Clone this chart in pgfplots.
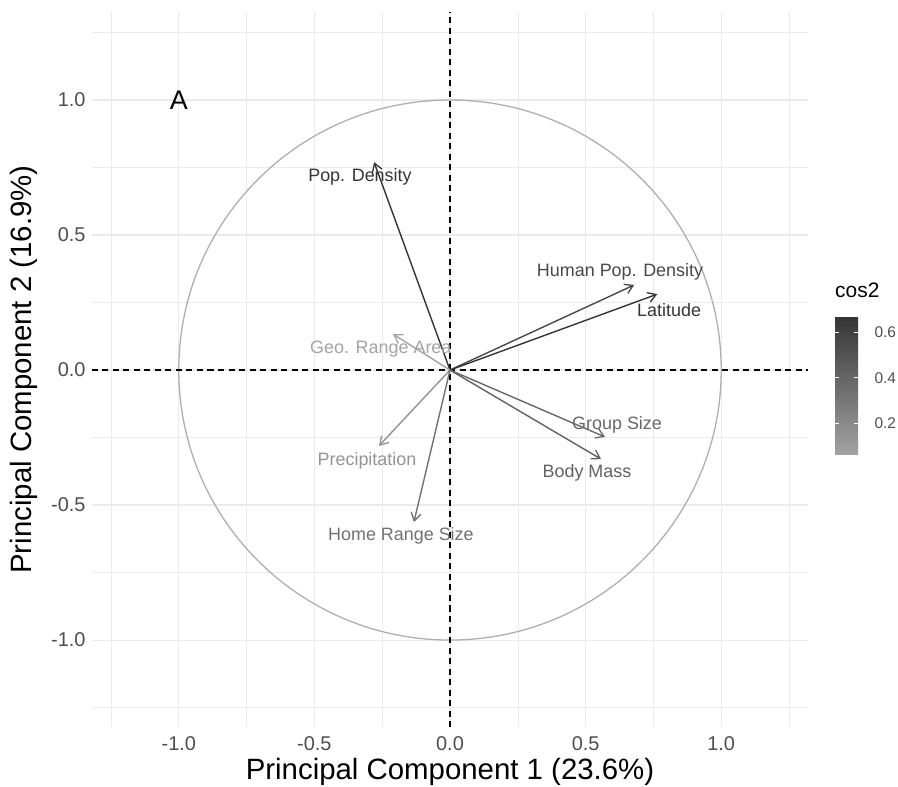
\documentclass[border=0pt]{standalone}
\usepackage{pgfplots}
\pgfplotsset{compat=1.18}
\usepackage{pgfplotstable}
\usepackage{fontspec}
\setmainfont{Liberation Sans}
\usetikzlibrary{arrows.meta}

\definecolor{gridgray}{HTML}{EBEBEB}
\definecolor{tickgray}{HTML}{4D4D4D}
\definecolor{circgray}{HTML}{AFAFAF}

\pgfplotscreatecolormap{cosmap}{rgb255=(163,163,163) rgb255=(52,52,52)}

% u, v: arrow end; c: cos2
\pgfplotstableread{
x y u v c
0 0 -0.280 0.770 0.671
0 0 0.679 0.315 0.560
0 0 0.764 0.281 0.663
0 0 -0.210 0.133 0.062
0 0 0.572 -0.248 0.389
0 0 0.557 -0.330 0.419
0 0 -0.262 -0.281 0.148
0 0 -0.133 -0.563 0.335
}\arrowtab

% m: cos2 rescaled to 0..1000 of the colormap
\pgfplotstableread{
lx ly c m label
-0.332 0.715 0.671 1000 {Pop. Density}
0.627 0.363 0.560 818 {Human Pop. Density}
0.808 0.222 0.663 987 {Latitude}
-0.255 0.078 0.062 0 {Geo. Range Area}
0.616 -0.204 0.389 537 {Group Size}
0.505 -0.381 0.419 586 {Body Mass}
-0.306 -0.337 0.148 141 {Precipitation}
-0.181 -0.615 0.335 448 {Home Range Size}
}\labeltab

\begin{document}
\begin{tikzpicture}
\begin{axis}[
  name=ax,
  scale only axis,
  width=716bp, height=715bp,
  xmin=-1.32, xmax=1.32, ymin=-1.322, ymax=1.326,
  axis line style={draw=none},
  major tick length=0pt, minor tick length=0pt,
  xtick={-1,-0.5,0,0.5,1}, ytick={-1,-0.5,0,0.5,1},
  minor xtick={-1.25,-0.75,-0.25,0.25,0.75,1.25},
  minor ytick={-1.25,-0.75,-0.25,0.25,0.75,1.25},
  xticklabels={-1.0,-0.5,0.0,0.5,1.0},
  yticklabels={-1.0,-0.5,0.0,0.5,1.0},
  grid=both,
  major grid style={color=gridgray, line width=1.1bp},
  minor grid style={color=gridgray, line width=0.6bp},
  tick label style={font=\fontsize{20}{20}\selectfont, color=tickgray},
  xticklabel style={yshift=-6bp},
  yticklabel style={xshift=-3bp},
  xlabel={Principal Component 1 (23.6\%)},
  ylabel={Principal Component 2 (16.9\%)},
  xlabel style={at={(axis description cs:0.5,-0.0741)}, anchor=base, font=\fontsize{29.5}{29.5}\selectfont, color=black},
  ylabel style={at={(axis description cs:-0.0838,0.5)}, anchor=base, font=\fontsize{29.5}{29.5}\selectfont, color=black},
  colormap name=cosmap,
  point meta min=0.062, point meta max=0.671,
  colorbar,
  colorbar/width=23bp,
  colorbar shift/.style={xshift=27bp},
  colorbar style={
    at={(parent axis.north east)}, anchor=north west,
    yshift=-304bp,
    scale only axis, height=139bp,
    enlargelimits=false,
    ytick={0.2,0.4,0.6}, yticklabels={0.2,0.4,0.6},
    axis line style={draw=none},
    major tick length=4bp, tick align=inside, ytick pos=both,
    every tick/.style={white, line width=0.8bp},
    yticklabel style={font=\fontsize{15.5}{15.5}\selectfont, color=tickgray, xshift=13bp},
    title={cos2},
    title style={at={(0,1)}, anchor=base west, inner sep=0pt, yshift=13bp, xshift=0bp, font=\fontsize{21}{21}\selectfont, color=black},
  },
]
\draw[circgray, line width=1.3bp] (axis cs:0,0) circle[radius=1];
\draw[black, line width=1.3bp, dash pattern=on 6bp off 4.5bp] (axis cs:-1.32,0) -- (axis cs:1.32,0);
\draw[black, line width=1.3bp, dash pattern=on 6bp off 4.5bp] (axis cs:0,-1.322) -- (axis cs:0,1.326);

\addplot[
  quiver={u=\thisrow{u}, v=\thisrow{v}, colored=mapped color,
    every arrow/.append style={line width=1.4bp, -{Straight Barb[length=8bp, width=10bp, line width=1.3bp]}}},
  point meta=\thisrow{c}
] table[x=x, y=y] {\arrowtab};

\addplot[
  only marks, mark=none,
  point meta=explicit symbolic,
  visualization depends on={\thisrow{m}\as\cmval},
  nodes near coords,
  every node near coord/.append style={anchor=center, color of colormap={\cmval of cosmap}, font=\fontsize{18}{18}\selectfont, inner sep=0pt}
] table[x=lx, y=ly, meta=label] {\labeltab};

\node[font=\fontsize{27}{27}\selectfont, black] at (axis cs:-1.0,1.0) {A};
\end{axis}
\pgfresetboundingbox
\path[use as bounding box] ([xshift=-92bp, yshift=-60bp]ax.south west) rectangle ([xshift=90bp, yshift=12bp]ax.north east);
\end{tikzpicture}
\end{document}
